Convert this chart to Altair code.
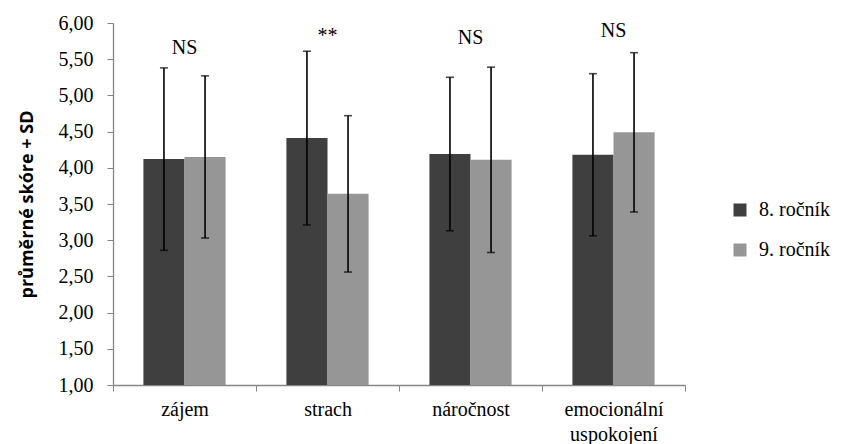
import altair as alt
import pandas as pd

categories = ["zájem", "strach", "náročnost", "emocionální uspokojení"]
groups = ["8. ročník", "9. ročník"]
mean8 = [4.12, 4.41, 4.19, 4.18]
mean9 = [4.15, 3.64, 4.11, 4.49]
sd8 = [1.26, 1.20, 1.06, 1.12]
sd9 = [1.12, 1.08, 1.28, 1.10]
sig_labels = ["NS", "**", "NS", "NS"]
sig_y = [5.65, 5.82, 5.79, 5.89]
y_ticks = [1.0, 1.5, 2.0, 2.5, 3.0, 3.5, 4.0, 4.5, 5.0, 5.5, 6.0]
y_min = 1.0

rows = []
for i, c in enumerate(categories):
    for g, m, s in ((groups[0], mean8, sd8), (groups[1], mean9, sd9)):
        rows.append({"cat": c, "grp": g, "mean": m[i], "base": y_min,
                     "lo": m[i] - s[i], "hi": m[i] + s[i]})
df = pd.DataFrame(rows)
ann = pd.DataFrame({"cat": categories, "label": sig_labels, "y": sig_y})

SERIF = "Liberation Serif"
AXIS_GREY = "#868686"

x_axis = alt.Axis(
    title=None,
    labelFont=SERIF,
    labelFontSize=20,
    labelColor="#000000",
    labelAngle=0,
    labelPadding=8,
    labelLineHeight=25,
    tickBand="extent",
    tickSize=6,
    tickColor=AXIS_GREY,
    domainColor=AXIS_GREY,
    domainWidth=1.3,
    labelExpr="datum.value == 'emocionální uspokojení' ? ['emocionální', 'uspokojení'] : datum.label",
)
y_axis = alt.Axis(
    title="průměrné skóre + SD",
    titleFont="Open Sans",
    titleFontWeight="bold",
    titleFontSize=18,
    titleColor="#000000",
    titlePadding=22,
    values=y_ticks,
    labelExpr="replace(format(datum.value, '.2f'), '.', ',')",
    labelFont=SERIF,
    labelFontSize=20,
    labelColor="#000000",
    labelPadding=14,
    tickSize=6,
    tickColor=AXIS_GREY,
    domainColor=AXIS_GREY,
    domainWidth=1.3,
    grid=False,
)
x_scale = alt.Scale(paddingInner=0, paddingOuter=0)
y_scale = alt.Scale(domain=[1, 6], nice=False, zero=False)
xoff = alt.XOffset("grp:N", sort=groups, scale=alt.Scale(paddingInner=0, paddingOuter=0.74))


def X():
    return alt.X("cat:N", sort=categories, scale=x_scale, axis=x_axis)


def Y(field):
    return alt.Y(field, scale=y_scale, axis=y_axis)


bars = alt.Chart(df).mark_bar().encode(
    x=X(),
    xOffset=xoff,
    y=Y("mean:Q"),
    y2="base:Q",
    color=alt.Color(
        "grp:N",
        sort=groups,
        scale=alt.Scale(domain=groups, range=["#3f3f3f", "#969696"]),
        legend=alt.Legend(
            title=None,
            orient="none",
            legendX=617,
            legendY=177,
            symbolType="square",
            symbolSize=169,
            symbolStrokeWidth=0,
            labelFont=SERIF,
            labelFontSize=20,
            labelColor="#000000",
            labelOffset=9,
            rowPadding=20,
        ),
    ),
)

rules = alt.Chart(df).mark_rule(color="#000000", strokeWidth=1.6).encode(
    x=X(), xOffset=xoff, y=Y("lo:Q"), y2="hi:Q",
)
caps_hi = alt.Chart(df).mark_tick(color="#000000", thickness=1.6, size=8, orient="horizontal").encode(
    x=X(), xOffset=xoff, y=Y("hi:Q"),
)
caps_lo = alt.Chart(df).mark_tick(color="#000000", thickness=1.6, size=8, orient="horizontal").encode(
    x=X(), xOffset=xoff, y=Y("lo:Q"),
)
text = alt.Chart(ann).mark_text(font=SERIF, fontSize=20, color="#000000", baseline="middle").encode(
    x=X(), y=Y("y:Q"), text="label:N",
)

chart = (
    alt.layer(bars, rules, caps_hi, caps_lo, text)
    .properties(
        width=572,
        height=362,
        background="#ffffff",
        autosize=alt.AutoSizeParams(type="none"),
        padding={"left": 113, "top": 23, "right": 159, "bottom": 59},
    )
    .configure_view(strokeWidth=0)
    .configure_axis(labelFont=SERIF, labelColor="#000000")
    .configure_legend(labelFont=SERIF, labelColor="#000000")
)

chart.save("out.html", embed_options={"renderer": "svg", "actions": False})
